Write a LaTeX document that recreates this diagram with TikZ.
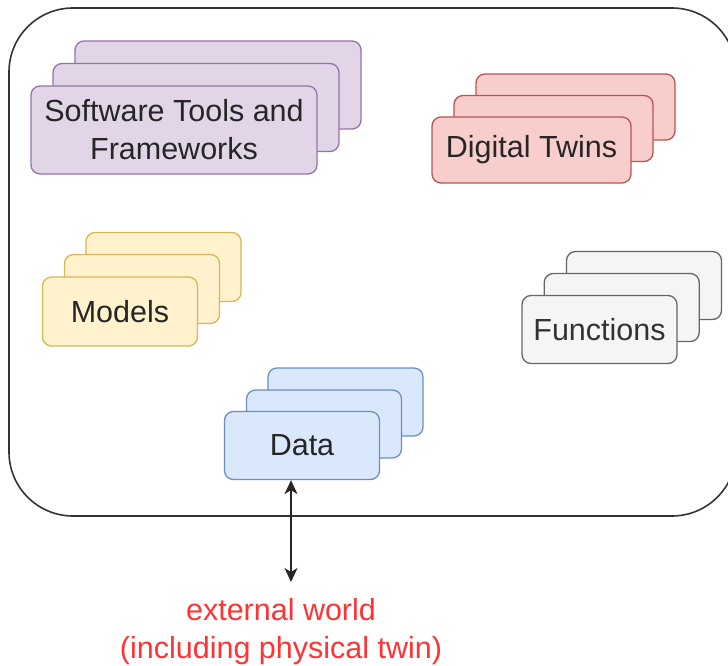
\documentclass[tikz,border=0pt]{standalone}
\usepackage{fontspec}
\setmainfont{Liberation Sans}
\usetikzlibrary{arrows.meta}
\definecolor{purpF}{HTML}{E1D5E7}\definecolor{purpD}{HTML}{9673A6}
\definecolor{redF}{HTML}{F8CECC}\definecolor{redD}{HTML}{B85450}
\definecolor{yelF}{HTML}{FFF2CC}\definecolor{yelD}{HTML}{D6B656}
\definecolor{grayF}{HTML}{F5F5F5}\definecolor{grayD}{HTML}{666666}\definecolor{grayT}{HTML}{333333}
\definecolor{bluF}{HTML}{DAE8FC}\definecolor{bluD}{HTML}{6C8EBF}
\definecolor{txt}{HTML}{262626}
\definecolor{extred}{HTML}{FF3333}
\begin{document}
\begin{tikzpicture}[x=1pt,y=-1pt,
  card/.style={rectangle,rounded corners=9pt,line width=1.3pt,inner sep=0pt,
    font=\fontsize{30.5}{38}\selectfont,text=txt,align=center},
  purp/.style={card,draw=purpD,fill=purpF,minimum width=286pt,minimum height=88pt},
  redc/.style={card,draw=redD,fill=redF,minimum width=199pt,minimum height=66pt},
  yelc/.style={card,draw=yelD,fill=yelF,minimum width=155pt,minimum height=69pt},
  grac/.style={card,draw=grayD,fill=grayF,minimum width=155pt,minimum height=68pt,text=grayT},
  bluc/.style={card,draw=bluD,fill=bluF,minimum width=155pt,minimum height=68pt},
  conn/.style={line width=1.3pt,draw=black!85,{Stealth[length=14pt,width=13pt,inset=4pt]}-{Stealth[length=14pt,width=13pt,inset=4pt]}}
]
\useasboundingbox (0,0) rectangle (728,666);
\draw[line width=1.6pt,draw=black!80,rounded corners=64pt] (9,8) rectangle (736,516);
% Software Tools
\node[purp] (sw3) at (218,85) {};
\node[purp] (sw2) at (196,107.5) {};
\node[purp] (sw1) at (174,130) {Software Tools and\\Frameworks};
% Digital Twins
\node[redc] (dt3) at (575.5,107) {};
\node[redc] (dt2) at (553.5,128.5) {};
\node[redc] (dt1) at (531.5,150) {Digital Twins};
% Models
\node[yelc] (md3) at (163.5,267) {};
\node[yelc] (md2) at (142,289) {};
\node[yelc] (md1) at (120,311.5) {Models};
% Functions
\node[grac] (fn3) at (644,285.5) {};
\node[grac] (fn2) at (621.75,307.5) {};
\node[grac] (fn1) at (599.5,329.5) {Functions};
% Data
\node[bluc] (da3) at (345.5,402) {};
\node[bluc] (da2) at (324,424) {};
\node[bluc] (da1) at (302,445.5) {Data};
% external world
\coordinate (ext) at (291,582);
\node[font=\fontsize{30.5}{38}\selectfont,text=extred,align=center,anchor=north] (ew) at (281,595) {external world\\(including physical twin)};
\draw[conn] (da1.south -| ext) -- (ext);
\end{tikzpicture}
\end{document}
